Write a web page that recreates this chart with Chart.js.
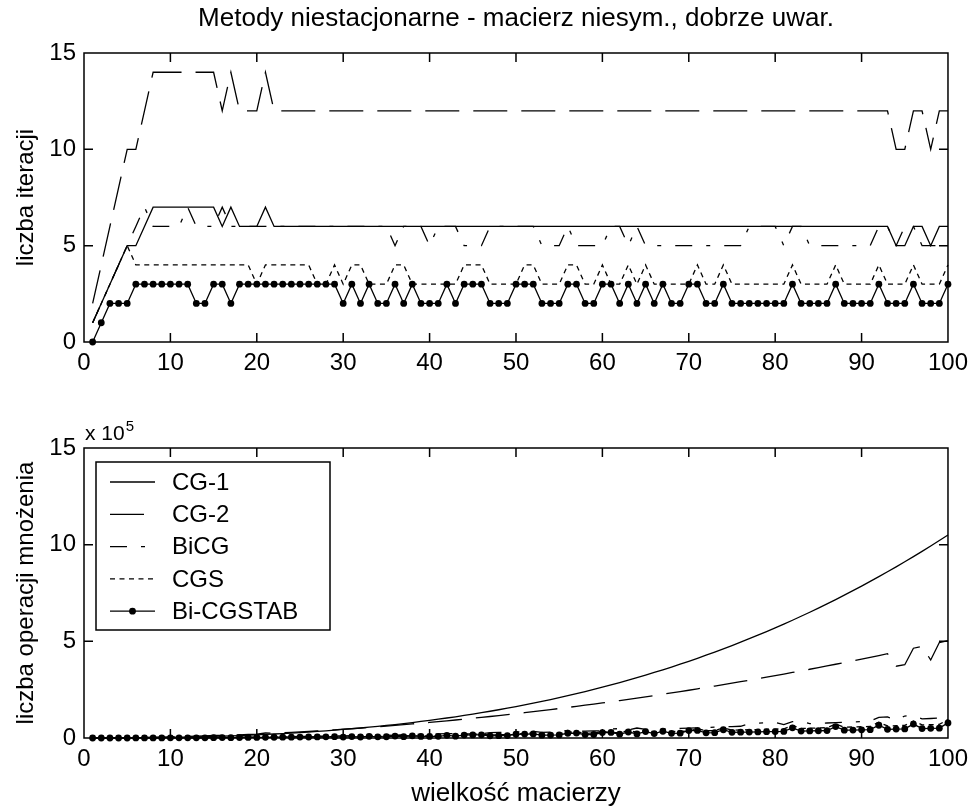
<!DOCTYPE html>
<html>
<head>
<meta charset="utf-8">
<script src="https://cdn.jsdelivr.net/npm/chart.js@4.4.0/dist/chart.umd.min.js"></script>
<style>
  body { margin: 0; background: #fff; }
  #wrap { position: relative; width: 975px; height: 808px; background: #fff; }
  canvas { position: absolute; left: 0; }
</style>
</head>
<body>
<div id="wrap">
  <canvas id="iterChart" width="975" height="400" style="top:0"></canvas>
  <canvas id="opsChart" width="975" height="408" style="top:400px"></canvas>
</div>
<script>
// wielkosc macierzy
const sizes = [
  1, 2, 3, 4, 5, 6, 7, 8, 9, 10, 11, 12, 13, 14, 15, 16, 17, 18, 19, 20,
  21, 22, 23, 24, 25, 26, 27, 28, 29, 30, 31, 32, 33, 34, 35, 36, 37, 38, 39, 40,
  41, 42, 43, 44, 45, 46, 47, 48, 49, 50, 51, 52, 53, 54, 55, 56, 57, 58, 59, 60,
  61, 62, 63, 64, 65, 66, 67, 68, 69, 70, 71, 72, 73, 74, 75, 76, 77, 78, 79, 80,
  81, 82, 83, 84, 85, 86, 87, 88, 89, 90, 91, 92, 93, 94, 95, 96, 97, 98, 99, 100,
];

const seriesNames = ["CG-1", "CG-2", "BiCG", "CGS", "Bi-CGSTAB"];

// liczba iteracji
const cg1Iter = [
  1, 2, 3, 4, 5, 5, 6, 7, 7, 7, 7, 7, 7, 7, 7, 6, 7, 6, 6, 6,
  7, 6, 6, 6, 6, 6, 6, 6, 6, 6, 6, 6, 6, 6, 6, 6, 6, 6, 6, 6,
  6, 6, 6, 6, 6, 6, 6, 6, 6, 6, 6, 6, 6, 6, 6, 6, 6, 6, 6, 6,
  6, 6, 6, 6, 6, 6, 6, 6, 6, 6, 6, 6, 6, 6, 6, 6, 6, 6, 6, 6,
  6, 6, 6, 6, 6, 6, 6, 6, 6, 6, 6, 6, 6, 5, 5, 6, 6, 5, 6, 6,
];
const cg2Iter = [
  2, 4, 6, 8, 10, 10, 12, 14, 14, 14, 14, 14, 14, 14, 14, 12, 14, 12, 12, 12,
  14, 12, 12, 12, 12, 12, 12, 12, 12, 12, 12, 12, 12, 12, 12, 12, 12, 12, 12, 12,
  12, 12, 12, 12, 12, 12, 12, 12, 12, 12, 12, 12, 12, 12, 12, 12, 12, 12, 12, 12,
  12, 12, 12, 12, 12, 12, 12, 12, 12, 12, 12, 12, 12, 12, 12, 12, 12, 12, 12, 12,
  12, 12, 12, 12, 12, 12, 12, 12, 12, 12, 12, 12, 12, 10, 10, 12, 12, 10, 12, 12,
];
const bicgIter = [
  1, 2, 3, 4, 5, 6, 7, 6, 6, 6, 6, 7, 6, 6, 6, 7, 6, 6, 6, 6,
  6, 6, 6, 6, 6, 6, 6, 6, 6, 6, 6, 6, 6, 6, 6, 5, 6, 6, 6, 5,
  6, 6, 6, 5, 5, 5, 6, 6, 6, 6, 6, 6, 5, 5, 5, 6, 5, 5, 5, 5,
  6, 6, 5, 6, 5, 5, 5, 5, 5, 5, 5, 5, 5, 5, 5, 5, 6, 6, 6, 6,
  5, 6, 6, 5, 5, 5, 5, 5, 5, 5, 5, 6, 6, 5, 6, 6, 5, 5, 5, 5,
];
const cgsIter = [
  1, 2, 3, 4, 5, 4, 4, 4, 4, 4, 4, 4, 4, 4, 4, 4, 4, 4, 4, 3,
  4, 4, 4, 4, 4, 4, 3, 3, 4, 3, 4, 4, 3, 3, 3, 4, 4, 3, 3, 3,
  3, 3, 3, 4, 4, 4, 3, 3, 3, 3, 4, 4, 3, 3, 3, 4, 4, 3, 3, 4,
  3, 3, 4, 3, 4, 3, 3, 3, 3, 3, 4, 3, 3, 4, 3, 3, 3, 3, 3, 3,
  3, 4, 3, 3, 3, 3, 4, 3, 3, 3, 3, 4, 3, 3, 3, 4, 3, 3, 3, 4,
];
const bicgstabIter = [
  0, 1, 2, 2, 2, 3, 3, 3, 3, 3, 3, 3, 2, 2, 3, 3, 2, 3, 3, 3,
  3, 3, 3, 3, 3, 3, 3, 3, 3, 2, 3, 2, 3, 2, 2, 3, 2, 3, 2, 2,
  2, 3, 2, 3, 3, 3, 2, 2, 2, 3, 3, 3, 2, 2, 2, 3, 3, 2, 2, 3,
  3, 2, 3, 2, 3, 2, 3, 2, 2, 3, 3, 2, 2, 3, 2, 2, 2, 2, 2, 2,
  2, 3, 2, 2, 2, 2, 3, 2, 2, 2, 2, 3, 2, 2, 2, 3, 2, 2, 2, 3,
];

// liczba operacji mnozenia (x 10^5)
const cg1Ops = [
  0.000, 0.001, 0.003, 0.005, 0.007, 0.011, 0.015, 0.020, 0.026, 0.033,
  0.041, 0.050, 0.060, 0.071, 0.083, 0.097, 0.112, 0.128, 0.145, 0.164,
  0.184, 0.206, 0.230, 0.255, 0.281, 0.310, 0.340, 0.372, 0.405, 0.441,
  0.479, 0.518, 0.560, 0.603, 0.649, 0.697, 0.748, 0.800, 0.855, 0.912,
  0.972, 1.034, 1.098, 1.166, 1.235, 1.308, 1.383, 1.461, 1.541, 1.625,
  1.712, 1.801, 1.893, 1.989, 2.087, 2.189, 2.294, 2.402, 2.513, 2.628,
  2.746, 2.868, 2.993, 3.121, 3.253, 3.389, 3.528, 3.672, 3.818, 3.969,
  4.124, 4.282, 4.444, 4.611, 4.781, 4.956, 5.135, 5.317, 5.505, 5.696,
  5.892, 6.092, 6.297, 6.506, 6.719, 6.937, 7.160, 7.388, 7.620, 7.857,
  8.099, 8.346, 8.597, 8.854, 9.115, 9.382, 9.654, 9.931, 10.213, 10.500,
];
const cg2Ops = [
  0.000, 0.001, 0.002, 0.005, 0.011, 0.015, 0.025, 0.038, 0.048, 0.059,
  0.071, 0.085, 0.099, 0.115, 0.132, 0.129, 0.170, 0.163, 0.182, 0.202,
  0.259, 0.244, 0.267, 0.290, 0.315, 0.341, 0.367, 0.395, 0.424, 0.454,
  0.484, 0.516, 0.549, 0.583, 0.617, 0.653, 0.690, 0.728, 0.767, 0.806,
  0.847, 0.889, 0.932, 0.976, 1.021, 1.067, 1.113, 1.161, 1.210, 1.260,
  1.311, 1.363, 1.416, 1.470, 1.525, 1.581, 1.638, 1.696, 1.754, 1.814,
  1.875, 1.937, 2.000, 2.064, 2.129, 2.195, 2.263, 2.331, 2.400, 2.470,
  2.541, 2.613, 2.686, 2.760, 2.835, 2.911, 2.988, 3.066, 3.146, 3.226,
  3.307, 3.389, 3.472, 3.556, 3.641, 3.728, 3.815, 3.903, 3.992, 4.082,
  4.174, 4.266, 4.359, 3.711, 3.791, 4.645, 4.742, 4.034, 4.940, 5.040,
];
const bicgOps = [
  0.000, 0.000, 0.001, 0.001, 0.003, 0.005, 0.007, 0.008, 0.010, 0.013,
  0.015, 0.021, 0.021, 0.025, 0.028, 0.038, 0.036, 0.041, 0.045, 0.050,
  0.056, 0.061, 0.067, 0.073, 0.079, 0.085, 0.092, 0.099, 0.106, 0.113,
  0.121, 0.129, 0.137, 0.146, 0.154, 0.136, 0.172, 0.182, 0.192, 0.168,
  0.212, 0.222, 0.233, 0.203, 0.213, 0.222, 0.278, 0.290, 0.303, 0.315,
  0.328, 0.341, 0.295, 0.306, 0.318, 0.395, 0.341, 0.353, 0.366, 0.378,
  0.469, 0.484, 0.417, 0.516, 0.444, 0.457, 0.471, 0.486, 0.500, 0.515,
  0.529, 0.544, 0.560, 0.575, 0.591, 0.607, 0.747, 0.767, 0.786, 0.806,
  0.689, 0.847, 0.868, 0.741, 0.759, 0.777, 0.795, 0.813, 0.832, 0.851,
  0.870, 1.067, 1.090, 0.928, 1.137, 1.161, 0.988, 1.008, 1.029, 1.050,
];
const cgsOps = [
  0.000, 0.000, 0.001, 0.002, 0.003, 0.003, 0.005, 0.006, 0.008, 0.010,
  0.012, 0.014, 0.016, 0.019, 0.022, 0.025, 0.028, 0.031, 0.035, 0.029,
  0.042, 0.046, 0.051, 0.055, 0.060, 0.065, 0.053, 0.056, 0.081, 0.065,
  0.092, 0.098, 0.078, 0.083, 0.088, 0.124, 0.131, 0.104, 0.110, 0.115,
  0.121, 0.127, 0.133, 0.186, 0.194, 0.203, 0.159, 0.166, 0.173, 0.180,
  0.250, 0.260, 0.202, 0.210, 0.218, 0.301, 0.312, 0.242, 0.251, 0.346,
  0.268, 0.277, 0.381, 0.295, 0.406, 0.314, 0.323, 0.333, 0.343, 0.353,
  0.484, 0.373, 0.384, 0.526, 0.405, 0.416, 0.427, 0.438, 0.449, 0.461,
  0.472, 0.646, 0.496, 0.508, 0.520, 0.533, 0.727, 0.558, 0.570, 0.583,
  0.596, 0.813, 0.623, 0.636, 0.650, 0.885, 0.677, 0.692, 0.706, 0.960,
];
const bicgstabOps = [
  0.000, 0.000, 0.000, 0.001, 0.001, 0.003, 0.004, 0.005, 0.006, 0.008,
  0.009, 0.011, 0.009, 0.010, 0.018, 0.020, 0.015, 0.025, 0.028, 0.031,
  0.034, 0.038, 0.041, 0.045, 0.049, 0.053, 0.057, 0.061, 0.066, 0.047,
  0.075, 0.053, 0.085, 0.060, 0.064, 0.101, 0.071, 0.113, 0.079, 0.083,
  0.087, 0.138, 0.096, 0.151, 0.158, 0.165, 0.115, 0.120, 0.125, 0.195,
  0.203, 0.211, 0.146, 0.152, 0.157, 0.245, 0.253, 0.175, 0.181, 0.281,
  0.290, 0.200, 0.310, 0.213, 0.330, 0.227, 0.350, 0.240, 0.248, 0.382,
  0.393, 0.270, 0.277, 0.427, 0.293, 0.300, 0.308, 0.316, 0.325, 0.333,
  0.341, 0.525, 0.358, 0.367, 0.376, 0.385, 0.590, 0.403, 0.412, 0.421,
  0.431, 0.660, 0.450, 0.460, 0.469, 0.719, 0.489, 0.499, 0.510, 0.780,
];

const xTickValues = [0, 10, 20, 30, 40, 50, 60, 70, 80, 90, 100];
const yTickValues = [0, 5, 10, 15];

const tickFont = { family: "'Liberation Sans Narrow', 'Liberation Sans', Arial, sans-serif", size: 24 };
const textFont = "'Liberation Sans', Arial, sans-serif";

// styl linii jak w legendzie matlaba
const lineStyles = [
  { dash: [], radius: 0 },
  { dash: [34, 14], radius: 0 },
  { dash: [17, 14, 4, 14], radius: 0 },
  { dash: [5, 4.5], radius: 0 },
  { dash: [], radius: 3.4 },
];

function makeDatasets(seriesList) {
  return seriesList.map((values, k) => ({
    label: seriesNames[k],
    data: sizes.map((n, i) => ({ x: n, y: values[i] })),
    borderColor: "#000",
    backgroundColor: "#000",
    borderWidth: 1.3,
    borderDash: lineStyles[k].dash,
    pointRadius: lineStyles[k].radius,
    pointHoverRadius: 0,
    pointBackgroundColor: "#000",
    pointBorderWidth: 0,
    tension: 0,
    fill: false,
    clip: false,
  }));
}

function makeScales(xHeight) {
  return {
    x: {
      type: "linear",
      min: 0,
      max: 100,
      afterBuildTicks: (s) => { s.ticks = xTickValues.map((v) => ({ value: v })); },
      afterFit: (s) => { s.height = xHeight; },
      ticks: { font: tickFont, color: "#000", padding: 7, maxRotation: 0, autoSkip: false },
      grid: { display: false, drawTicks: false },
      border: { display: false },
    },
    y: {
      type: "linear",
      min: 0,
      max: 15,
      afterBuildTicks: (s) => { s.ticks = yTickValues.map((v) => ({ value: v })); },
      afterFit: (s) => { s.width = 84; },
      ticks: { font: tickFont, color: "#000", padding: 8 },
      grid: { display: false, drawTicks: false },
      border: { display: false },
    },
  };
}

// ramka osi i krotkie znaczniki do srodka
const framePlugin = {
  id: "frame",
  afterDraw(chart) {
    const { ctx, chartArea: a, scales } = chart;
    ctx.save();
    ctx.strokeStyle = "#000";
    ctx.lineWidth = 1.5;
    ctx.setLineDash([]);
    ctx.strokeRect(a.left, a.top, a.right - a.left, a.bottom - a.top);
    ctx.beginPath();
    scales.x.ticks.forEach((t) => {
      if (t.value <= 0 || t.value >= 100) return;
      const px = scales.x.getPixelForValue(t.value);
      ctx.moveTo(px, a.bottom);
      ctx.lineTo(px, a.bottom - 9);
      ctx.moveTo(px, a.top);
      ctx.lineTo(px, a.top + 9);
    });
    scales.y.ticks.forEach((t) => {
      if (t.value <= 0 || t.value >= 15) return;
      const py = scales.y.getPixelForValue(t.value);
      ctx.moveTo(a.left, py);
      ctx.lineTo(a.left + 9, py);
      ctx.moveTo(a.right, py);
      ctx.lineTo(a.right - 9, py);
    });
    ctx.stroke();
    ctx.restore();
  },
};

function drawRotated(ctx, text, x, y) {
  ctx.save();
  ctx.translate(x, y);
  ctx.rotate(-Math.PI / 2);
  ctx.textAlign = "center";
  ctx.textBaseline = "middle";
  ctx.fillText(text, 0, 0);
  ctx.restore();
}

const topTextPlugin = {
  id: "topText",
  afterDraw(chart) {
    const { ctx, chartArea: a } = chart;
    ctx.save();
    ctx.fillStyle = "#000";
    ctx.font = "26px " + textFont;
    ctx.textAlign = "center";
    ctx.textBaseline = "alphabetic";
    ctx.fillText("Metody niestacjonarne - macierz niesym., dobrze uwar.", (a.left + a.right) / 2, 26);
    ctx.font = "24px " + textFont;
    drawRotated(ctx, "liczba iteracji", 26, (a.top + a.bottom) / 2);
    ctx.restore();
  },
};

const bottomTextPlugin = {
  id: "bottomText",
  afterDraw(chart) {
    const { ctx, chartArea: a } = chart;
    ctx.save();
    ctx.fillStyle = "#000";
    ctx.font = "24px " + textFont;
    drawRotated(ctx, "liczba operacji mnożenia", 26, (a.top + a.bottom) / 2);
    ctx.font = "26px " + textFont;
    ctx.textAlign = "center";
    ctx.textBaseline = "alphabetic";
    ctx.fillText("wielkość macierzy", (a.left + a.right) / 2, 401);
    // mnoznik osi y
    ctx.textAlign = "left";
    ctx.font = "21px " + textFont;
    ctx.fillText("x 10", a.left + 1, 40);
    const w = ctx.measureText("x 10").width;
    ctx.font = "15px " + textFont;
    ctx.fillText("5", a.left + 2 + w, 31);
    ctx.restore();
  },
};

const legendPlugin = {
  id: "boxLegend",
  afterDraw(chart) {
    const ctx = chart.ctx;
    const box = { left: 96, top: 62, right: 330, bottom: 230 };
    ctx.save();
    ctx.fillStyle = "#fff";
    ctx.fillRect(box.left, box.top, box.right - box.left, box.bottom - box.top);
    ctx.strokeStyle = "#000";
    ctx.lineWidth = 1.5;
    ctx.strokeRect(box.left, box.top, box.right - box.left, box.bottom - box.top);
    chart.data.datasets.forEach((ds, k) => {
      const y = box.top + 20 + k * 32.3;
      ctx.beginPath();
      ctx.lineWidth = ds.borderWidth;
      ctx.setLineDash(ds.borderDash);
      ctx.moveTo(110, y);
      ctx.lineTo(155, y);
      ctx.stroke();
      ctx.setLineDash([]);
      if (ds.pointRadius > 0) {
        ctx.beginPath();
        ctx.fillStyle = "#000";
        ctx.arc(132.5, y, ds.pointRadius, 0, Math.PI * 2);
        ctx.fill();
      }
      ctx.fillStyle = "#000";
      ctx.font = "24px " + textFont;
      ctx.textAlign = "left";
      ctx.textBaseline = "middle";
      ctx.fillText(ds.label, 172, y + 1);
    });
    ctx.restore();
  },
};

function baseOptions(padTop, xHeight) {
  return {
    responsive: false,
    animation: false,
    events: [],
    layout: { padding: { top: padTop, right: 21, left: 0, bottom: 0 } },
    scales: makeScales(xHeight),
    plugins: { legend: { display: false }, tooltip: { enabled: false }, title: { display: false } },
  };
}

new Chart(document.getElementById("iterChart").getContext("2d"), {
  type: "line",
  data: { datasets: makeDatasets([cg1Iter, cg2Iter, bicgIter, cgsIter, bicgstabIter]) },
  options: baseOptions(53, 58),
  plugins: [framePlugin, topTextPlugin],
});

new Chart(document.getElementById("opsChart").getContext("2d"), {
  type: "line",
  data: { datasets: makeDatasets([cg1Ops, cg2Ops, bicgOps, cgsOps, bicgstabOps]) },
  options: baseOptions(48, 70),
  plugins: [framePlugin, bottomTextPlugin, legendPlugin],
});
</script>
</body>
</html>
